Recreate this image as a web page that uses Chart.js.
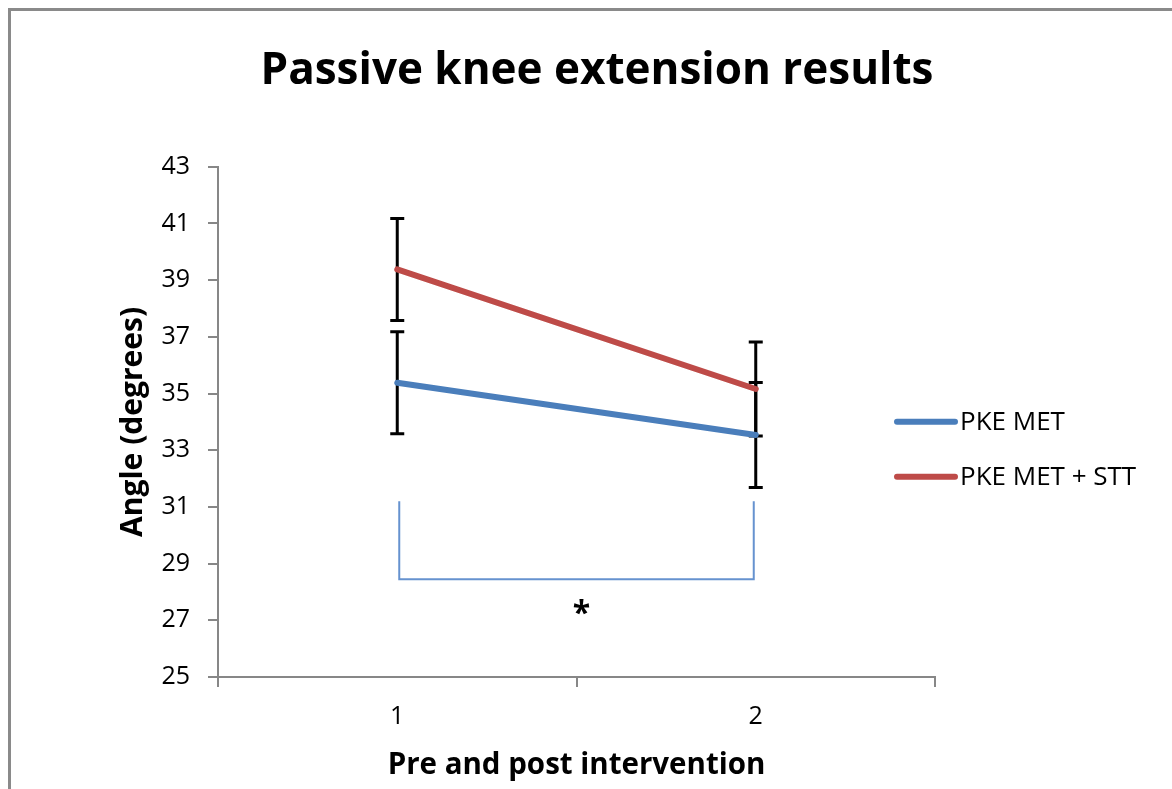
<!DOCTYPE html>
<html>
<head>
<meta charset="utf-8">
<title>Passive knee extension results</title>
<script src="https://cdn.jsdelivr.net/npm/chart.js@4.4.1/dist/chart.umd.min.js"></script>
<style>
    html, body { margin: 0; padding: 0; background: #fff; }
    #wrap { width: 1172px; height: 789px; }
</style>
</head>
<body>
<div id="wrap"><canvas id="kneeChart" width="1172" height="789"></canvas></div>
<script>
// values
const categories = ['1', '2'];
const pkeMet = [35.38, 33.54];
const pkeMetErr = [1.8, 1.85];
const pkeMetStt = [39.38, 35.16];
const pkeMetSttErr = [1.8, 1.66];
const yTickValues = [25, 27, 29, 31, 33, 35, 37, 39, 41, 43];
const bracketTop = 31.2;
const bracketBottom = 28.45;
const starLevel = 27.45;

const FONT = "'Open Sans', 'Liberation Sans', sans-serif";

// gray frame round the whole figure
const framePlugin = {
    id: 'frame',
    beforeDraw(chart) {
        const ctx = chart.ctx;
        ctx.save();
        ctx.fillStyle = '#fff';
        ctx.fillRect(0, 0, chart.width, chart.height);
        ctx.strokeStyle = '#8a8a8a';
        ctx.lineWidth = 3;
        ctx.strokeRect(9.5, 9.5, chart.width + 50, chart.height + 50);
        ctx.restore();
    }
};

// black error bars with caps, drawn under the lines
const errorBarPlugin = {
    id: 'errorBars',
    beforeDatasetsDraw(chart) {
        const ctx = chart.ctx;
        const y = chart.scales.y;
        ctx.save();
        ctx.strokeStyle = '#000';
        ctx.lineWidth = 3;
        chart.data.datasets.forEach((ds, d) => {
            const meta = chart.getDatasetMeta(d);
            meta.data.forEach((pt, i) => {
                const top = y.getPixelForValue(ds.data[i] + ds.errors[i]);
                const bot = y.getPixelForValue(ds.data[i] - ds.errors[i]);
                ctx.beginPath();
                ctx.moveTo(pt.x, top);
                ctx.lineTo(pt.x, bot);
                ctx.moveTo(pt.x - 7, top);
                ctx.lineTo(pt.x + 7, top);
                ctx.moveTo(pt.x - 7, bot);
                ctx.lineTo(pt.x + 7, bot);
                ctx.stroke();
            });
        });
        ctx.restore();
    }
};

// significance bracket and asterisk
const bracketPlugin = {
    id: 'bracket',
    afterDatasetsDraw(chart) {
        const ctx = chart.ctx;
        const x = chart.scales.x, y = chart.scales.y;
        const x1 = x.getPixelForValue(0) + 2;
        const x2 = x.getPixelForValue(1) - 2;
        const yt = y.getPixelForValue(bracketTop);
        const yb = y.getPixelForValue(bracketBottom);
        ctx.save();
        ctx.strokeStyle = '#6692cf';
        ctx.lineWidth = 2;
        ctx.beginPath();
        ctx.moveTo(x1, yt);
        ctx.lineTo(x1, yb);
        ctx.lineTo(x2, yb);
        ctx.lineTo(x2, yt);
        ctx.stroke();
        ctx.fillStyle = '#000';
        ctx.font = 'bold 32px ' + FONT;
        ctx.textAlign = 'center';
        ctx.textBaseline = 'middle';
        ctx.fillText('*', (x1 + x2) / 2 + 5, y.getPixelForValue(starLevel) + 7);
        ctx.restore();
    }
};

// legend at the right, line samples and labels
const sideLegendPlugin = {
    id: 'sideLegend',
    afterDraw(chart) {
        const ctx = chart.ctx;
        const area = chart.chartArea;
        ctx.save();
        ctx.font = '26px ' + FONT;
        ctx.textBaseline = 'middle';
        ctx.textAlign = 'left';
        ctx.lineCap = 'round';
        chart.data.datasets.forEach((ds, i) => {
            const ly = area.top + 255 + i * 55;
            const lx = area.right - 38;
            ctx.strokeStyle = ds.borderColor;
            ctx.lineWidth = 6;
            ctx.beginPath();
            ctx.moveTo(lx, ly);
            ctx.lineTo(lx + 58, ly);
            ctx.stroke();
            ctx.fillStyle = '#000';
            ctx.fillText(ds.label, lx + 63, ly + 1);
        });
        ctx.restore();
    }
};

const axisGray = '#878787';

new Chart(document.getElementById('kneeChart'), {
    type: 'line',
    data: {
        labels: categories,
        datasets: [
            {
                label: 'PKE MET',
                data: pkeMet,
                errors: pkeMetErr,
                borderColor: '#4a7ebb',
                borderWidth: 6,
                borderCapStyle: 'round',
                pointRadius: 0,
                tension: 0
            },
            {
                label: 'PKE MET + STT',
                data: pkeMetStt,
                errors: pkeMetSttErr,
                borderColor: '#be4b48',
                borderWidth: 6,
                borderCapStyle: 'round',
                pointRadius: 0,
                tension: 0
            }
        ]
    },
    options: {
        responsive: false,
        animation: false,
        devicePixelRatio: 1,
        layout: { padding: { left: 22, right: 0, top: 0, bottom: 0 } },
        plugins: {
            legend: { display: false },
            tooltip: { enabled: false },
            title: {
                display: true,
                text: 'Passive knee extension results',
                color: '#000',
                font: { family: FONT, size: 44, weight: 'bold' },
                padding: { top: 45, bottom: 69 }
            }
        },
        scales: {
            x: {
                offset: true,
                grid: { offset: true, drawOnChartArea: false, drawTicks: true, tickLength: 10, color: axisGray, lineWidth: 2 },
                border: { color: axisGray, width: 2 },
                ticks: { color: '#000', font: { family: FONT, size: 25 }, padding: 15 },
                title: {
                    display: true,
                    text: 'Pre and post intervention',
                    color: '#000',
                    font: { family: FONT, size: 29.5, weight: 'bold' },
                    padding: { top: 0, bottom: 6 }
                },
                afterFit(scale) { scale.height = 112; }
            },
            y: {
                min: 25,
                max: 43,
                afterBuildTicks(scale) { scale.ticks = yTickValues.map(v => ({ value: v })); },
                grid: { drawOnChartArea: false, drawTicks: true, tickLength: 10, color: axisGray, lineWidth: 2 },
                border: { color: axisGray, width: 2 },
                ticks: { color: '#000', font: { family: FONT, size: 25 }, padding: 18 },
                title: {
                    display: true,
                    text: 'Angle (degrees)',
                    color: '#000',
                    font: { family: FONT, size: 30, weight: 'bold' },
                    padding: { top: 93, bottom: 0 }
                },
                afterFit(scale) { scale.width = 196; }
            },
            // empty axis that keeps room for the legend on the right
            yRoom: {
                position: 'right',
                display: true,
                grid: { display: false },
                border: { display: false },
                ticks: { display: false },
                afterFit(scale) { scale.width = 237; }
            }
        }
    },
    plugins: [framePlugin, errorBarPlugin, bracketPlugin, sideLegendPlugin]
});
</script>
</body>
</html>
